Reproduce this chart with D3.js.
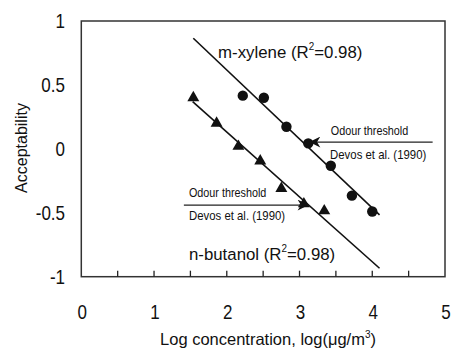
<!DOCTYPE html>
<html>
<head>
<meta charset="utf-8">
<script src="https://cdn.jsdelivr.net/npm/d3@7"></script>
<style>
  html, body { margin: 0; padding: 0; background: #fff; }
  text { font-family: "Liberation Sans", Arial, sans-serif; fill: #111; }
</style>
</head>
<body>
<svg id="chart" width="454" height="353"></svg>
<script>
// ---- data ----
const xTicks = [0, 1, 2, 3, 4, 5];
const xMinorTicks = [0.5, 1, 1.5, 2, 2.5, 3, 3.5, 4, 4.5];
const yTicks = [1, 0.5, 0, -0.5, -1];
const yTickLabels = ["1", "0.5", "0", "-0.5", "-1"];

const xyleneX = [2.22, 2.51, 2.82, 3.12, 3.43, 3.72, 4.00];
const xyleneY = [0.416, 0.40, 0.173, 0.043, -0.132, -0.366, -0.49];
const butanolX = [1.54, 1.86, 2.16, 2.46, 2.75, 3.06, 3.34];
const butanolY = [0.40, 0.20, 0.02, -0.095, -0.31, -0.43, -0.485];

// regression fits: [intercept, slope], x-range
const xyleneFit = [1.697, -0.540];
const xyleneFitRange = [1.54, 4.10];
const butanolFit = [1.145, -0.507];
const butanolFitRange = [1.531, 4.10];

const xyleneLabel = "m-xylene";
const butanolLabel = "n-butanol";
const r2Text = "=0.98)";

// odour threshold annotations (log conc of the threshold)
const thresholdLines = [
  {name: "m-xylene", x: [3.15, 4.83], y: 0.053, head: "start"},
  {name: "n-butanol", x: [1.41, 3.11], y: -0.44, head: "end"}
];

// ---- layout ----
const svg = d3.select("#chart");
const x = d3.scaleLinear().domain([0, 5]).range([81.3, 445]);
const y = d3.scaleLinear().domain([-1, 1]).range([276.7, 21]);

// frame
svg.append("rect")
  .attr("x", x(0)).attr("y", y(1))
  .attr("width", x(5) - x(0)).attr("height", y(-1) - y(1))
  .attr("fill", "none").attr("stroke", "#333").attr("stroke-width", 1.5);

// bottom inward ticks
svg.append("g").selectAll("line").data(xMinorTicks).join("line")
  .attr("x1", d => x(d)).attr("x2", d => x(d))
  .attr("y1", y(-1)).attr("y2", y(-1) - 6)
  .attr("stroke", "#222").attr("stroke-width", 1.3);

// condensed text helper
function ctext(g, px, py, str, size, anchor, sx) {
  return g.append("text")
    .attr("transform", `translate(${px},${py}) scale(${sx},1)`)
    .attr("text-anchor", anchor)
    .attr("font-size", size)
    .text(str);
}

// y tick labels
const gy = svg.append("g");
yTicks.forEach((v, i) => {
  ctext(gy, 65, y(v) + 7, yTickLabels[i], 20, "end", 0.85);
});
// x tick labels
const gx = svg.append("g");
xTicks.forEach(v => {
  ctext(gx, x(v) + 1, 319, String(v), 20, "middle", 0.85);
});

// axis titles
svg.append("text")
  .attr("transform", `translate(27,148) rotate(-90)`)
  .attr("text-anchor", "middle").attr("font-size", 16)
  .text("Acceptability");

const xt = svg.append("text")
  .attr("x", 268).attr("y", 345)
  .attr("text-anchor", "middle").attr("font-size", 16.5);
xt.append("tspan").text("Log concentration, log(\u03bcg/m");
xt.append("tspan").attr("font-size", 10).attr("dy", -7).text("3");
xt.append("tspan").attr("dy", 7).text(")");

// regression lines
function fitLine(fit, range) {
  return range.map(v => [x(v), y(fit[0] + fit[1] * v)]);
}
const lineGen = d3.line();
svg.append("path").attr("d", lineGen(fitLine(xyleneFit, xyleneFitRange)))
  .attr("stroke", "#111").attr("stroke-width", 1.6).attr("fill", "none");
svg.append("path").attr("d", lineGen(fitLine(butanolFit, butanolFitRange)))
  .attr("stroke", "#111").attr("stroke-width", 1.6).attr("fill", "none");

// points
svg.append("g").selectAll("circle").data(xyleneX).join("circle")
  .attr("cx", d => x(d)).attr("cy", (d, i) => y(xyleneY[i]))
  .attr("r", 5.2).attr("fill", "#111");
const tri = d3.symbol().type(d3.symbolTriangle).size(62);
svg.append("g").selectAll("path").data(butanolX).join("path")
  .attr("d", tri)
  .attr("transform", (d, i) => `translate(${x(d)},${y(butanolY[i])})`)
  .attr("fill", "#111");

// arrow markers
const defs = svg.append("defs");
defs.append("marker").attr("id", "ahead")
  .attr("viewBox", "0 0 10 10").attr("refX", 9).attr("refY", 5)
  .attr("markerWidth", 13).attr("markerHeight", 11)
  .attr("markerUnits", "userSpaceOnUse")
  .attr("orient", "auto-start-reverse")
  .append("path").attr("d", "M0,0 L10,5 L0,10 L3,5 Z").attr("fill", "#111");

thresholdLines.forEach(t => {
  const l = svg.append("line")
    .attr("x1", x(t.x[0])).attr("x2", x(t.x[1]))
    .attr("y1", y(t.y)).attr("y2", y(t.y))
    .attr("stroke", "#222").attr("stroke-width", 1.2);
  if (t.head === "start") l.attr("marker-start", "url(#ahead)");
  else l.attr("marker-end", "url(#ahead)");
});

// annotation texts
const ga = svg.append("g");
ctext(ga, x(3.43), y(0.136) + 4, "Odour threshold", 12, "start", 0.9);
ctext(ga, x(3.42), y(-0.05) + 4, "Devos et al. (1990)", 12, "start", 0.95);
ctext(ga, x(1.48), y(-0.345) + 4, "Odour threshold", 12, "start", 0.9);
ctext(ga, x(1.48), y(-0.525) + 4, "Devos et al. (1990)", 12, "start", 0.95);

// regression labels
function r2label(px, py, name) {
  const t = svg.append("text")
    .attr("transform", `translate(${px},${py}) scale(0.99,1)`)
    .attr("font-size", 17);
  t.append("tspan").text(name + " (R");
  t.append("tspan").attr("font-size", 10).attr("dy", -8).text("2");
  t.append("tspan").attr("dy", 8).text(r2Text);
}
r2label(x(1.88), y(0.71), xyleneLabel);
r2label(x(1.48), y(-0.87), butanolLabel);
</script>
</body>
</html>
